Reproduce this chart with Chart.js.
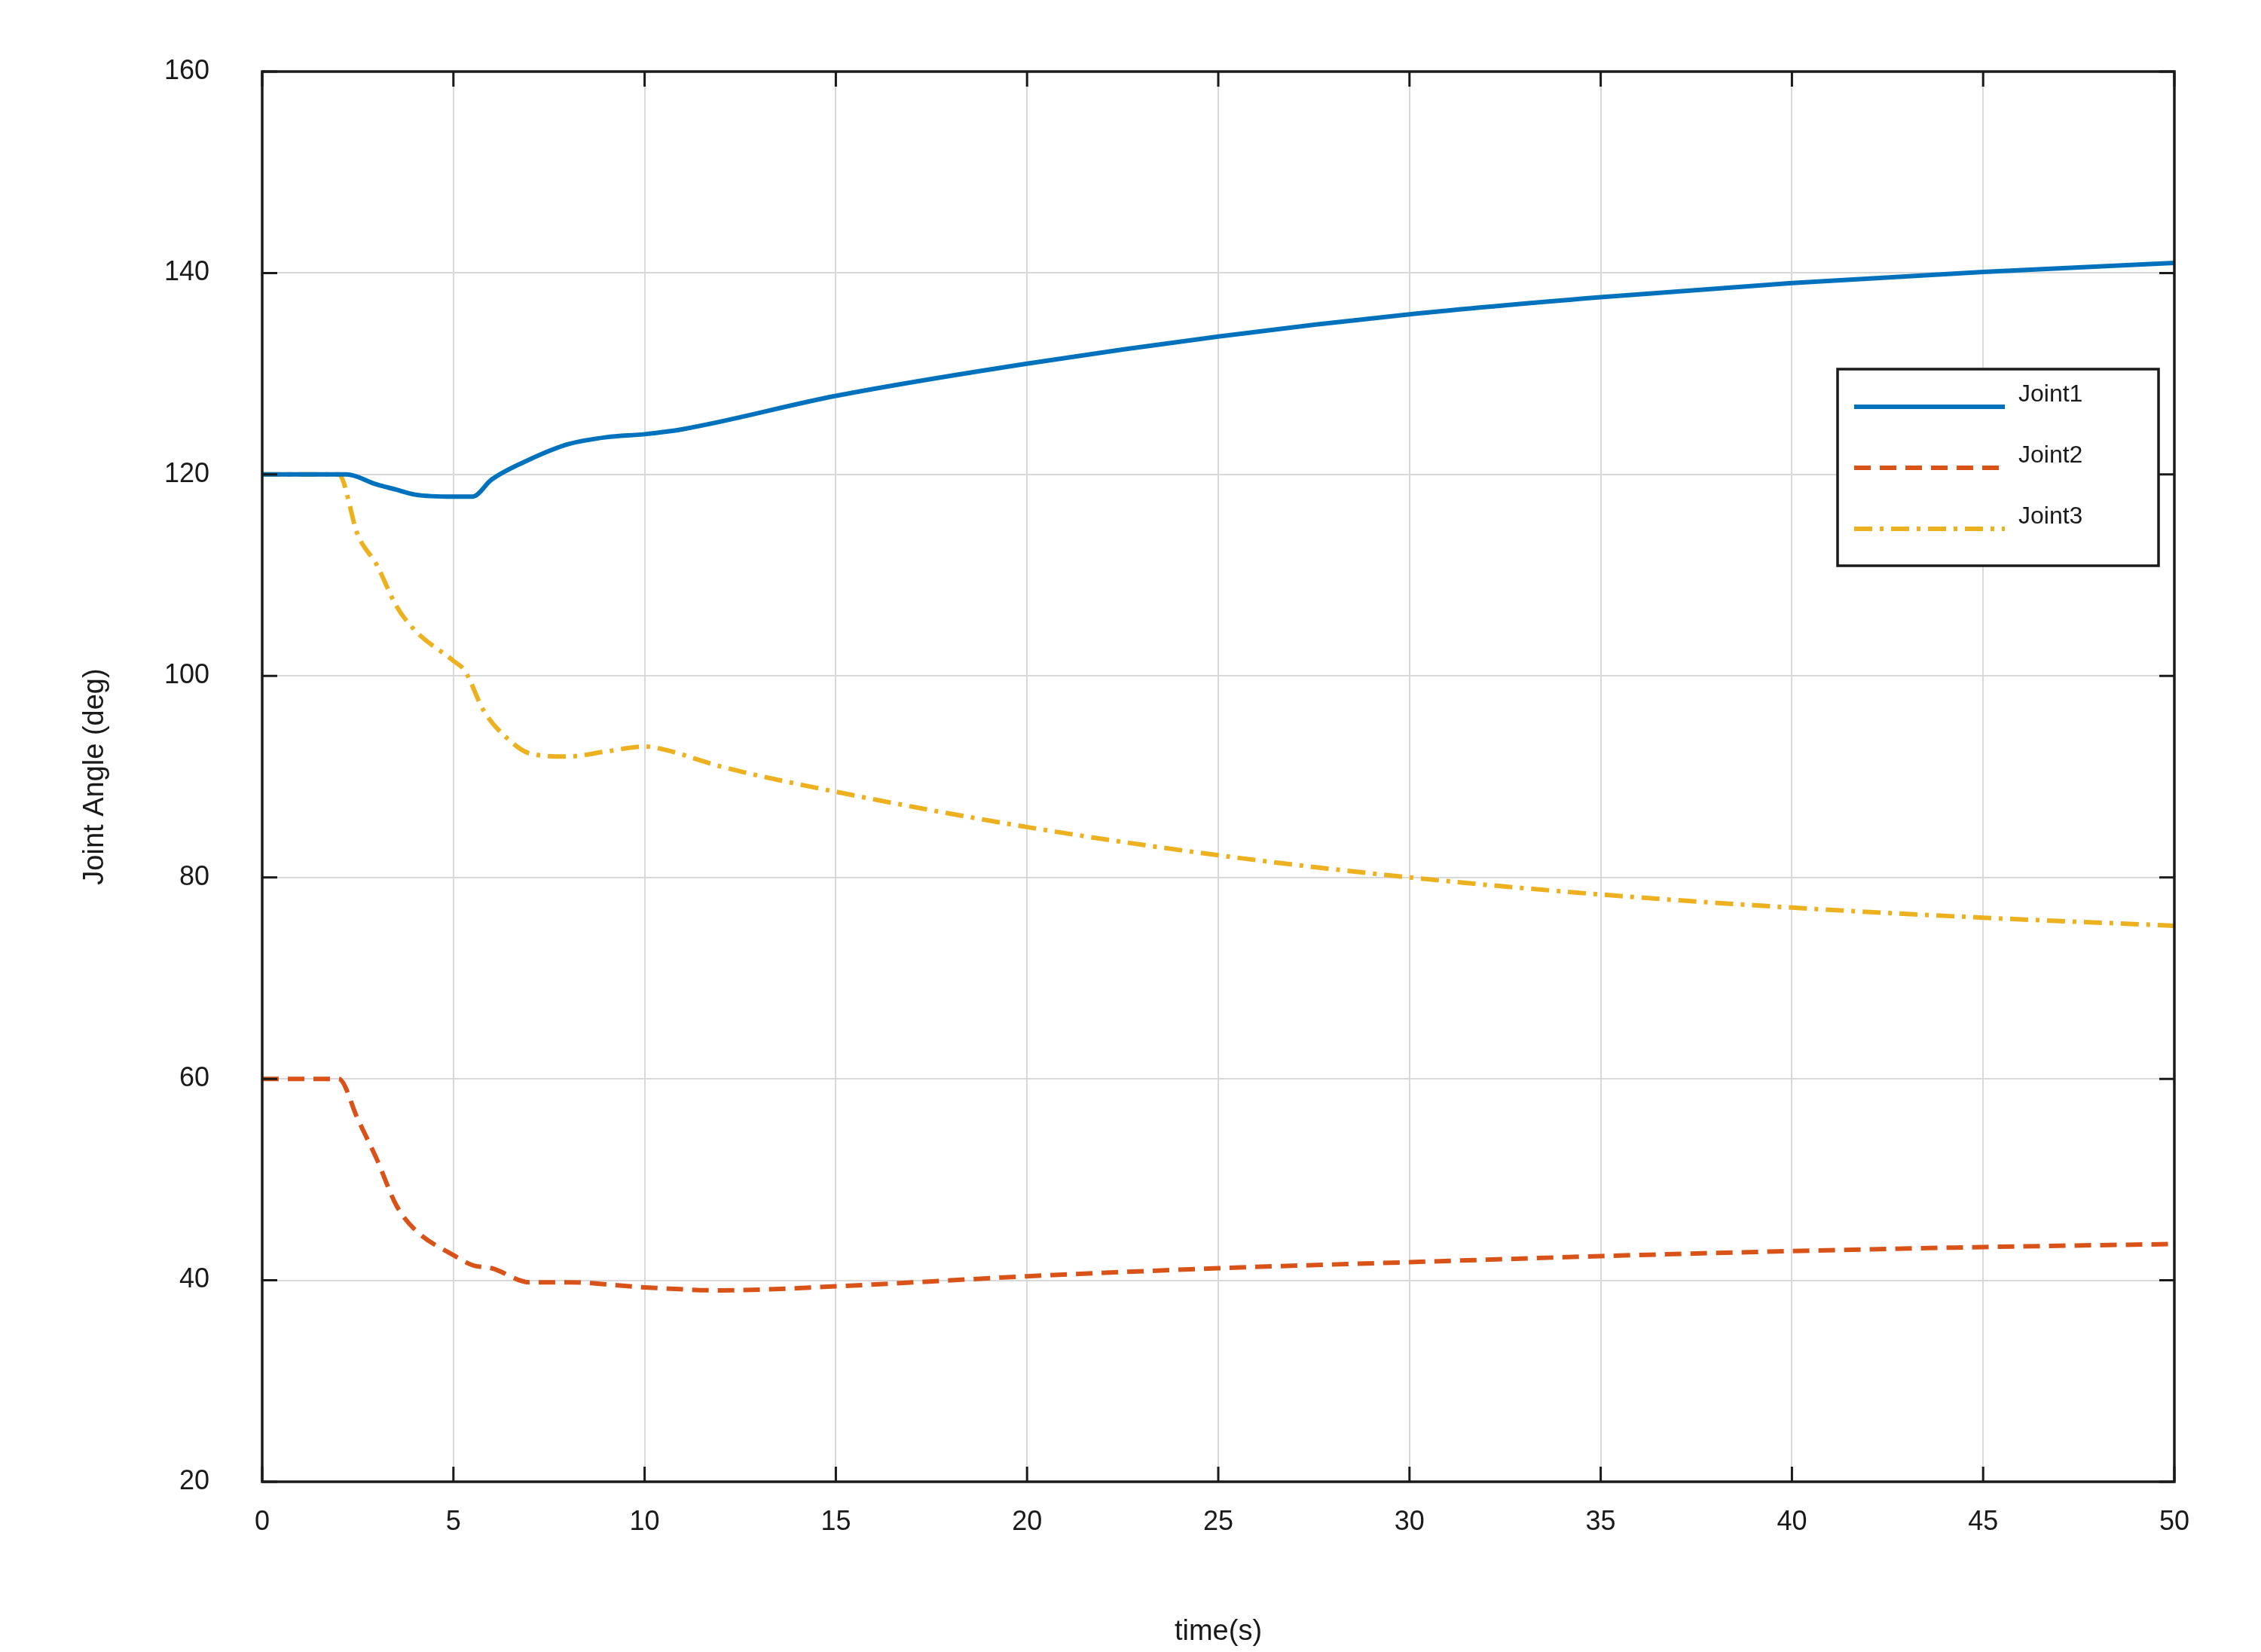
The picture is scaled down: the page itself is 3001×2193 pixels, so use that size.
<!DOCTYPE html>
<html><head><meta charset="utf-8">
<script src="https://cdn.jsdelivr.net/npm/chart.js@4"></script>
<style>body{margin:0;background:#fff}canvas{display:block}</style>
</head><body>
<canvas id="c" width="3001" height="2193"></canvas>
<script>
const labels = ["Joint1","Joint2","Joint3"];
const xTicks = [0,5,10,15,20,25,30,35,40,45,50];
const yTicks = [20,40,60,80,100,120,140,160];
const j1x = [0,2,2.2,3,3.5,4,5,5.5,6,7,8,9,10,11,15,20,25,30,35,40,45,50];
const j1y = [120,120,120,119,118.5,118,117.8,117.8,119.5,121.5,123,123.7,124,124.5,127.8,131,133.7,135.9,137.6,139,140.1,141];
const j2x = [0,2,2.5,3,3.5,4,5,5.5,6,7,8,10,12,15,20,25,30,35,40,45,50];
const j2y = [60,60,56,52,47.5,45,42.5,41.5,41.2,39.8,39.8,39.3,39,39.4,40.4,41.2,41.8,42.4,42.9,43.3,43.6];
const j3x = [0,2,2.5,3,3.5,4,5,5.3,5.8,6.5,7,8,9,10,10.5,12,15,20,25,30,35,40,45,50];
const j3y = [120,120,114,111,107,104.5,101.5,100.5,96.5,93.5,92.3,92,92.5,93,92.7,91,88.5,85,82.2,80,78.3,77,76,75.2];
const colors = ["#0072BD","#D95319","#EDB120"];
const dashes = [[],[22,12],[24,10,5,10]];
const pts = (xs,ys)=>xs.map((x,i)=>({x,y:ys[i]}));
const series = [pts(j1x,j1y),pts(j2x,j2y),pts(j3x,j3y)];
const FONT = "Liberation Sans, Arial, sans-serif";

const boxPlugin = {
  id:'box',
  afterDraw(chart){
    const {ctx, chartArea:a} = chart;
    const xs = chart.scales.x, ys = chart.scales.y;
    ctx.save();
    ctx.strokeStyle='#1a1a1a'; ctx.lineWidth=3.5;
    ctx.strokeRect(a.left,a.top,a.right-a.left,a.bottom-a.top);
    ctx.lineWidth=3;
    const L=20;
    xTicks.forEach(v=>{const p=xs.getPixelForValue(v);
      ctx.beginPath();ctx.moveTo(p,a.bottom);ctx.lineTo(p,a.bottom-L);ctx.moveTo(p,a.top);ctx.lineTo(p,a.top+L);ctx.stroke();});
    yTicks.forEach(v=>{const p=ys.getPixelForValue(v);
      ctx.beginPath();ctx.moveTo(a.left,p);ctx.lineTo(a.left+L,p);ctx.moveTo(a.right,p);ctx.lineTo(a.right-L,p);ctx.stroke();});
    const lx=2439, ly=490, lw=426, lh=261;
    ctx.fillStyle='#fff'; ctx.fillRect(lx,ly,lw,lh);
    ctx.lineWidth=3.5; ctx.strokeStyle='#1a1a1a'; ctx.strokeRect(lx,ly,lw,lh);
    chart.data.datasets.forEach((d,i)=>{
      const y = ly+34+i*81;
      ctx.strokeStyle=d.borderColor; ctx.lineWidth=6; ctx.setLineDash(d.borderDash||[]);
      ctx.beginPath(); ctx.moveTo(lx+22,y+16); ctx.lineTo(lx+222,y+16); ctx.stroke();
      ctx.setLineDash([]);
      ctx.fillStyle='#1a1a1a'; ctx.font='32px '+FONT; ctx.textBaseline='middle';
      ctx.fillText(d.label,lx+240,y);
    });
    ctx.restore();
  }
};

new Chart(document.getElementById('c'),{
  type:'line',
  data:{datasets:series.map((s,i)=>({label:labels[i],data:s,borderColor:colors[i],borderWidth:6,borderDash:dashes[i],pointRadius:0,fill:false,cubicInterpolationMode:'monotone'}))},
  options:{
    responsive:false,animation:false,devicePixelRatio:1,
    layout:{padding:{top:95,right:115,left:100,bottom:0}},
    plugins:{legend:{display:false},tooltip:{enabled:false}},
    scales:{
      x:{type:'linear',min:0,max:50,
        afterFit:s=>{s.height=226;},
        afterBuildTicks:s=>{s.ticks=xTicks.map(v=>({value:v}));},
        grid:{color:'#d9d9d9',lineWidth:2,drawTicks:false},border:{display:false},
        ticks:{font:{family:FONT,size:36},color:'#1a1a1a',padding:32,maxRotation:0},
        title:{display:true,text:'time(s)',font:{family:FONT,size:38},color:'#1a1a1a',padding:{top:40}}},
      y:{type:'linear',min:20,max:160,
        afterFit:s=>{s.width=248;},
        afterBuildTicks:s=>{s.ticks=yTicks.map(v=>({value:v}));},
        grid:{color:'#d9d9d9',lineWidth:2,drawTicks:false},border:{display:false},
        ticks:{font:{family:FONT,size:36},color:'#1a1a1a',padding:70},
        title:{display:true,text:'Joint Angle (deg)',font:{family:FONT,size:38},color:'#1a1a1a',padding:{bottom:10}}}
    }
  },
  plugins:[boxPlugin]
});
</script>
</body></html>
